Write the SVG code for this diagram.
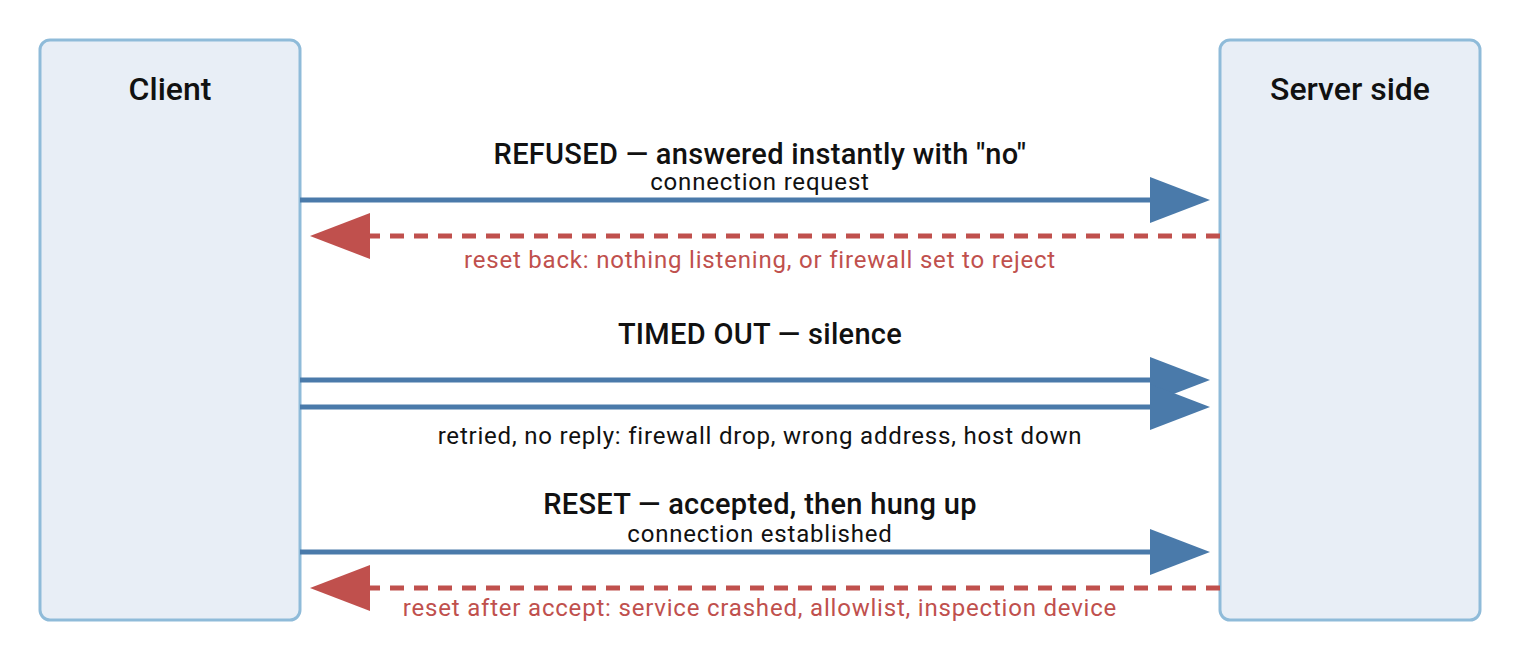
<svg xmlns="http://www.w3.org/2000/svg" width="1520" height="660" viewBox="0 0 1520 660">
<style>
.box{fill:#e8eef6;stroke:#8fbbd9;stroke-width:3}
.t{font-family:Roboto,"Liberation Sans",sans-serif;text-anchor:middle}
.h{font-size:32px;font-weight:500;fill:#111}
.h2{font-size:29px;font-weight:500;fill:#111;letter-spacing:0.3px}
.s{font-size:24px;fill:#111;letter-spacing:0.8px}
.r{font-size:24px;fill:#c0504d;letter-spacing:0.8px}
.b{stroke:#4a7aaa;stroke-width:5;fill:none}
.d{stroke:#c0504d;stroke-width:5;fill:none;stroke-dasharray:14 10}
.bh{fill:#4a7aaa}
.dh{fill:#c0504d}
</style>
<rect width="1520" height="660" fill="#fff"/>
<g id="client"><rect class="box" x="40" y="40" width="260" height="580" rx="10"/><text class="t h" x="170" y="100">Client</text></g>
<g id="server"><rect class="box" x="1220" y="40" width="260" height="580" rx="10"/><text class="t h" x="1350" y="100">Server side</text></g>
<g id="connectors">
<line class="b" x1="300" y1="200" x2="1152" y2="200"/><polygon class="bh" points="1150,177 1210,200 1150,223"/>
<line class="d" x1="1220" y1="236" x2="368" y2="236"/><polygon class="dh" points="370,213 310,236 370,259"/>
<line class="b" x1="300" y1="380" x2="1152" y2="380"/><polygon class="bh" points="1150,357 1210,380 1150,403"/>
<line class="b" x1="300" y1="407" x2="1152" y2="407"/><polygon class="bh" points="1150,384 1210,407 1150,430"/>
<line class="b" x1="300" y1="552" x2="1152" y2="552"/><polygon class="bh" points="1150,529 1210,552 1150,575"/>
<line class="d" x1="1220" y1="588" x2="368" y2="588"/><polygon class="dh" points="370,565 310,588 370,611"/>
</g>
<g id="labels">
<text class="t h2" x="760" y="164">REFUSED — answered instantly with "no"</text>
<text class="t s" x="760" y="190">connection request</text>
<text class="t r" x="760" y="268">reset back: nothing listening, or firewall set to reject</text>
<text class="t h2" x="760" y="344">TIMED OUT — silence</text>
<text class="t s" x="760" y="444">retried, no reply: firewall drop, wrong address, host down</text>
<text class="t h2" x="760" y="514">RESET — accepted, then hung up</text>
<text class="t s" x="760" y="542">connection established</text>
<text class="t r" x="760" y="616">reset after accept: service crashed, allowlist, inspection device</text>
</g>
</svg>
